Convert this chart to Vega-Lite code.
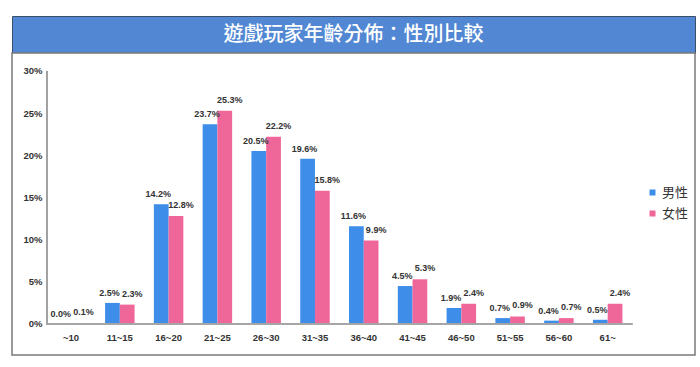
{
  "$schema": "https://vega.github.io/schema/vega-lite/v6.json",
  "padding": {"left": 11, "top": 15, "right": 6, "bottom": 13},
  "background": "white",
  "spacing": 0,
  "bounds": "flush",
  "vconcat": [
    {
      "width": 683,
      "height": 37,
      "view": {"fill": "#5187d3", "stroke": "#3b4f6b", "strokeWidth": 1},
      "data": {"values": [{"t": "遊戲玩家年齡分佈：性別比較"}]},
      "mark": {"type": "text", "color": "white", "font": "Noto Sans CJK TC", "fontSize": 20, "fontWeight": 500, "align": "center", "baseline": "middle"},
      "encoding": {"text": {"field": "t", "type": "nominal"}}
    },
    {
      "width": 683,
      "height": 302,
      "view": {"stroke": "#7a7a7a", "strokeWidth": 1.5, "fill": "white"},
      "data": {
        "values": [
          {"age": "~10", "gender": "男性", "pct": 0.000},
          {"age": "~10", "gender": "女性", "pct": 0.001},
          {"age": "11~15", "gender": "男性", "pct": 0.025},
          {"age": "11~15", "gender": "女性", "pct": 0.023},
          {"age": "16~20", "gender": "男性", "pct": 0.142},
          {"age": "16~20", "gender": "女性", "pct": 0.128},
          {"age": "21~25", "gender": "男性", "pct": 0.237},
          {"age": "21~25", "gender": "女性", "pct": 0.253},
          {"age": "26~30", "gender": "男性", "pct": 0.205},
          {"age": "26~30", "gender": "女性", "pct": 0.222},
          {"age": "31~35", "gender": "男性", "pct": 0.196},
          {"age": "31~35", "gender": "女性", "pct": 0.158},
          {"age": "36~40", "gender": "男性", "pct": 0.116},
          {"age": "36~40", "gender": "女性", "pct": 0.099},
          {"age": "41~45", "gender": "男性", "pct": 0.045},
          {"age": "41~45", "gender": "女性", "pct": 0.053},
          {"age": "46~50", "gender": "男性", "pct": 0.019},
          {"age": "46~50", "gender": "女性", "pct": 0.024},
          {"age": "51~55", "gender": "男性", "pct": 0.007},
          {"age": "51~55", "gender": "女性", "pct": 0.009},
          {"age": "56~60", "gender": "男性", "pct": 0.004},
          {"age": "56~60", "gender": "女性", "pct": 0.007},
          {"age": "61~", "gender": "男性", "pct": 0.005},
          {"age": "61~", "gender": "女性", "pct": 0.024}
        ]
      },
      "layer": [
        {
          "mark": {"type": "bar"},
          "encoding": {
            "x": {
              "field": "age", "type": "nominal",
              "scale": {"domain": ["~10", "11~15", "16~20", "21~25", "26~30", "31~35", "36~40", "41~45", "46~50", "51~55", "56~60", "61~"], "paddingInner": 0, "paddingOuter": 1.1146, "align": 0.3551},
              "axis": {"title": null, "domain": false, "ticks": false, "offset": -31, "labelPadding": 8, "labelAngle": 0, "labelFont": "Liberation Sans", "labelFontSize": 9.5, "labelFontWeight": "bold", "labelColor": "#333"}
            },
            "xOffset": {"field": "gender", "type": "nominal", "scale": {"domain": ["男性", "女性"], "paddingInner": 0, "paddingOuter": 0.655}},
            "y": {
              "field": "pct", "type": "quantitative",
              "scale": {"domain": [-0.03676, 0.32134], "nice": false, "zero": false},
              "axis": {"title": null, "values": [0, 0.05, 0.1, 0.15, 0.2, 0.25, 0.3], "format": ".0%", "domain": false, "ticks": false, "grid": false, "offset": -39, "labelPadding": 9, "labelFont": "Liberation Sans", "labelFontSize": 9.5, "labelFontWeight": "bold", "labelColor": "#333"}
            },
            "color": {
              "field": "gender", "type": "nominal",
              "scale": {"domain": ["男性", "女性"], "range": ["#3d8de9", "#ef6799"]},
              "legend": {"title": null, "orient": "none", "legendX": 634, "legendY": 170, "symbolType": "square", "symbolSize": 36, "symbolStrokeWidth": 0, "labelFont": "Noto Sans CJK TC", "labelFontSize": 13, "labelColor": "#333", "labelOffset": 3, "rowPadding": 7, "padding": 0}
            }
          }
        },
        {
          "transform": [{"filter": "datum.gender == '男性'"}],
          "mark": {"type": "text", "baseline": "bottom", "dy": -5, "dx": -3, "font": "Liberation Sans", "fontSize": 9, "fontWeight": "bold", "color": "#333"},
          "encoding": {
            "x": {"field": "age", "type": "nominal"},
            "xOffset": {"field": "gender", "type": "nominal"},
            "y": {"field": "pct", "type": "quantitative"},
            "text": {"field": "pct", "type": "quantitative", "format": ".1%"}
          }
        },
        {
          "transform": [{"filter": "datum.gender == '女性'"}],
          "mark": {"type": "text", "baseline": "bottom", "dy": -6, "dx": 5, "font": "Liberation Sans", "fontSize": 9, "fontWeight": "bold", "color": "#333"},
          "encoding": {
            "x": {"field": "age", "type": "nominal"},
            "xOffset": {"field": "gender", "type": "nominal"},
            "y": {"field": "pct", "type": "quantitative"},
            "text": {"field": "pct", "type": "quantitative", "format": ".1%"}
          }
        },
        {
          "mark": {"type": "rule", "color": "#a0a0a0", "strokeWidth": 1},
          "encoding": {
            "x": {"datum": "~10", "type": "nominal", "bandPosition": 0},
            "y": {"datum": 0, "type": "quantitative"},
            "y2": {"datum": 0.3}
          }
        },
        {
          "mark": {"type": "rule", "color": "#a6a6a6", "strokeWidth": 1.5},
          "encoding": {
            "y": {"datum": 0, "type": "quantitative"},
            "x": {"datum": "~10", "type": "nominal", "bandPosition": 0},
            "x2": {"datum": "61~", "bandPosition": 1}
          }
        }
      ]
    }
  ]
}
